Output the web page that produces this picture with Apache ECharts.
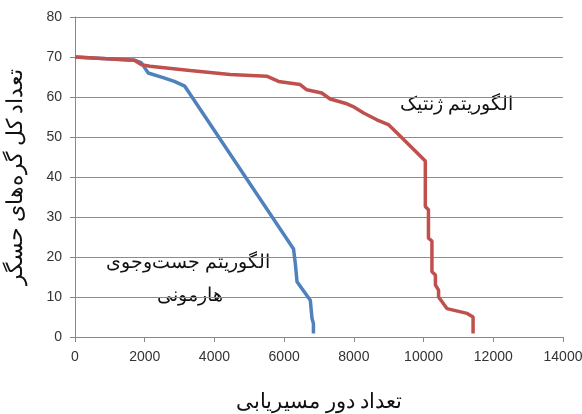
<!DOCTYPE html>
<html>
<head>
<meta charset="utf-8">
<script src="https://cdn.jsdelivr.net/npm/echarts@6/dist/echarts.min.js"></script>
<style>html,body{margin:0;padding:0;background:#fff;}#c{width:582px;height:414px;}</style>
</head>
<body>
<div id="c"></div>
<script>
var geneticName = 'الگوریتم ژنتیک';
var harmonyName = 'الگوریتم جست‌وجوی هارمونی';
var xTitle = 'تعداد دور مسیریابی';
var yTitle = 'تعداد کل گره‌های حسگر';

var geneticX = [0, 1700, 1900, 2150, 3300, 4450, 5500, 5840, 6460, 6650, 7080, 7320, 7800, 7980, 8280, 8660, 8990, 9240, 10050, 10050, 10140, 10140, 10240, 10240, 10340, 10340, 10430, 10430, 10530, 10670, 11250, 11420, 11420];
var geneticY = [70, 69.2, 68.1, 67.7, 66.6, 65.6, 65.2, 63.9, 63.1, 61.8, 61.0, 59.5, 58.3, 57.6, 56.0, 54.3, 53.1, 51.0, 44.0, 32.6, 31.8, 24.7, 24.0, 16.3, 15.5, 13.0, 11.7, 10.0, 8.8, 7.1, 5.9, 5.0, 0.9];

var harmonyX = [0, 1700, 1900, 2100, 2550, 2850, 3150, 6270, 6290, 6320, 6370, 6750, 6800, 6840, 6840];
var harmonyY = [70, 69.2, 68.6, 66.0, 64.8, 63.9, 62.7, 22.0, 21.7, 18.4, 13.8, 9.2, 4.6, 3.4, 0.9];

function pairs(xs, ys){ return xs.map(function(x,i){ return [x, ys[i]]; }); }

var chart = echarts.init(document.getElementById('c'));
chart.setOption({
  animation: false,
  backgroundColor: '#fff',
  grid: {left: 75, right: 19, top: 17, bottom: 77, containLabel: false, outerBoundsMode: 'none'},
  xAxis: {
    type: 'value', min: 0, max: 14000, interval: 2000,
    axisLine: {show: true, lineStyle: {color: '#888', width: 1}},
    axisTick: {show: true, length: 5, lineStyle: {color: '#888'}},
    axisLabel: {color: '#333', fontSize: 14, fontFamily: 'Liberation Sans, Arial, sans-serif', margin: 13,
      formatter: function(v){ return String(v); }},
    splitLine: {show: false},
    name: xTitle, nameLocation: 'middle', nameGap: 55,
    nameTextStyle: {color: '#111', fontSize: 21, fontFamily: 'serif'}
  },
  yAxis: {
    type: 'value', min: 0, max: 80, interval: 10,
    axisLine: {show: true, lineStyle: {color: '#888', width: 1}},
    axisTick: {show: true, length: 5, lineStyle: {color: '#888'}},
    axisLabel: {color: '#333', fontSize: 14, fontFamily: 'Liberation Sans, Arial, sans-serif', margin: 13},
    splitLine: {show: true, lineStyle: {color: '#8c8c8c', width: 1}},
    name: yTitle, nameLocation: 'middle', nameGap: 48, nameRotate: 90,
    nameTextStyle: {color: '#111', fontSize: 22, fontFamily: 'serif'}
  },
  series: [
    {name: harmonyName, type: 'line', data: pairs(harmonyX, harmonyY), showSymbol: false,
     lineStyle: {color: '#4F81BD', width: 3.5}, itemStyle: {color: '#4F81BD'}},
    {name: geneticName, type: 'line', data: pairs(geneticX, geneticY), showSymbol: false,
     lineStyle: {color: '#C0504D', width: 3.5}, itemStyle: {color: '#C0504D'}}
  ],
  graphic: [
    {type: 'text', left: 400, top: 96, style: {text: geneticName, fill: '#111', fontSize: 19, fontFamily: 'serif'}},
    {type: 'text', left: 106, top: 254, style: {text: 'الگوریتم جست‌وجوی', fill: '#111', fontSize: 19, fontFamily: 'serif'}},
    {type: 'text', left: 157, top: 287, style: {text: 'هارمونی', fill: '#111', fontSize: 19, fontFamily: 'serif'}}
  ]
});
</script>
</body>
</html>
